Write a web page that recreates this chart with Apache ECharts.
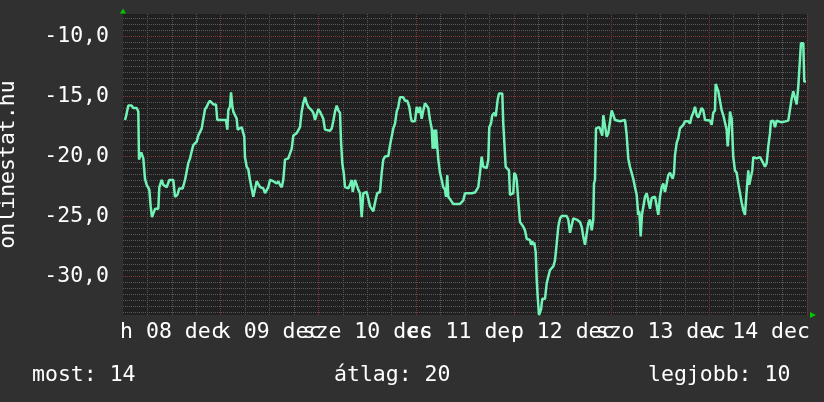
<!DOCTYPE html>
<html><head><meta charset="utf-8">
<script src="https://cdn.jsdelivr.net/npm/echarts@6/dist/echarts.min.js"></script>
<style>html,body{margin:0;padding:0;background:#303030}#c{width:824px;height:402px}</style>
</head><body><div id="c"></div>
<script>
// x labels (centred at noon of each day), Hungarian day abbreviations
const dayLabels = ['h 08 dec', 'k 09 dec', 'sze 10 dec', 'cs 11 dec', 'p 12 dec', 'szo 13 dec', 'v 14 dec'];
// time in hours since 08 dec 00:00
const hours = [0.49,0.74,1.30,2.14,2.53,3.36,3.76,3.93,4.18,4.49,4.99,5.40,5.82,6.46,6.80,7.12,7.44,7.86,8.67,8.92,9.50,9.90,10.73,11.37,12.35,12.77,13.34,13.83,14.66,15.23,15.65,16.04,16.46,16.87,17.27,18.10,18.49,18.91,19.33,19.72,20.14,20.56,20.95,21.37,22.18,22.84,23.16,25.30,25.62,25.86,26.28,26.53,26.84,27.09,27.51,27.93,28.17,29.15,29.55,29.79,29.96,30.38,30.77,31.19,31.61,32.00,32.42,32.84,33.23,33.65,34.46,34.88,35.29,35.69,36.10,36.91,37.75,38.14,38.56,38.98,39.37,39.79,40.60,41.02,41.43,41.83,42.66,43.06,43.47,43.89,44.28,44.70,45.12,45.51,46.35,46.74,47.16,47.57,47.97,48.38,48.80,49.19,49.61,50.84,51.26,51.65,52.07,52.49,52.88,53.30,53.54,53.86,54.21,54.53,55.34,55.75,56.17,56.42,56.74,56.98,57.40,57.79,58.21,58.63,58.87,59.02,59.86,60.25,60.67,61.08,61.48,61.72,62.14,62.46,63.12,63.54,63.93,64.35,65.16,65.58,65.99,66.39,66.81,67.22,67.62,68.03,68.84,69.26,69.83,70.32,70.66,70.91,71.72,72.13,72.53,72.95,73.36,73.76,74.17,74.59,74.98,75.40,75.82,76.06,76.38,76.63,76.88,77.19,77.44,77.86,78.27,78.67,79.08,79.33,79.65,79.90,80.31,80.73,81.12,82.77,83.19,83.58,84.00,84.42,84.81,85.23,85.64,86.45,86.87,87.26,87.68,88.10,88.49,89.33,89.72,89.97,90.38,90.70,91.19,91.54,91.78,92.03,92.35,92.84,93.16,93.40,93.65,93.99,94.48,94.80,95.05,95.47,95.86,96.11,96.45,96.70,97.09,97.51,97.92,98.32,98.74,99.15,99.96,100.21,100.53,100.77,101.02,101.36,101.61,101.85,102.17,102.67,102.98,103.65,104.07,104.46,104.88,105.69,106.10,106.52,106.91,107.33,107.75,108.97,109.37,109.79,110.20,110.60,111.02,111.43,112.24,112.66,113.05,113.47,113.89,114.28,114.70,115.12,115.51,115.68,115.93,116.17,116.98,117.33,117.72,117.97,118.38,118.80,119.19,119.61,120.03,120.42,120.84,121.25,122.07,123.30,123.71,124.10,124.52,124.94,125.33,125.75,126.17,126.56,126.81,127.15,127.47,127.79,128.21,128.63,129.02,129.44,129.85,130.67,131.08,131.47,131.89,132.31,132.70,133.12,133.54,133.93,134.35,135.01,135.33,135.58,135.99,136.39,136.80,137.22,137.62,138.03,138.84,139.26,139.68,140.07,140.49,140.91,141.30,141.72,142.13,142.53,142.95,144.17,144.59,144.98,145.40,145.57,145.89,146.21,146.63,147.04,147.44,147.85,148.27,148.52,148.84,149.09,149.50,149.89,150.31,150.73,151.12,151.54,151.96,152.35,152.77,153.01,153.33,153.58,153.82,154.17,154.56,154.81,155.64,156.04,156.45,156.87,157.26,157.68,158.10,158.49,158.91,159.15,159.72,160.14,160.55,161.78,162.17,163.40,163.82,164.24,164.63,165.05,165.46,165.86,166.27,166.52,167.09,167.33,167.75];
const temps = [-17.0,-16.7,-15.8,-15.8,-16.0,-16.0,-16.3,-20.3,-20.3,-19.7,-20.2,-21.9,-22.4,-22.8,-24.2,-25.1,-25.0,-24.4,-24.4,-22.6,-22.0,-22.4,-22.6,-22.0,-22.0,-23.4,-23.25,-22.7,-22.7,-22.0,-22.0,-20.6,-20.2,-19.6,-19.1,-18.8,-18.3,-18.2,-17.7,-17.6,-16.1,-15.9,-15.6,-15.4,-15.7,-15.7,-17.0,-17.0,-17.8,-16.2,-15.9,-14.7,-15.8,-16.3,-16.3,-16.9,-17.8,-17.6,-18.1,-18.4,-20.1,-20.9,-21.1,-22.0,-22.0,-23.4,-23.4,-22.1,-22.0,-22.6,-22.7,-23.1,-23.2,-22.6,-22.0,-22.1,-22.3,-22.1,-22.4,-22.6,-22.0,-20.3,-20.2,-20.1,-19.4,-18.3,-18.1,-18.0,-17.6,-16.3,-15.6,-15.1,-15.6,-15.9,-16.2,-16.4,-17.0,-17.0,-16.1,-16.3,-16.6,-16.9,-17.8,-17.9,-17.7,-17.1,-16.3,-15.8,-16.2,-16.4,-18.7,-20.6,-21.4,-22.6,-22.7,-22.4,-22.0,-23.0,-23.0,-22.0,-22.0,-22.8,-23.1,-25.1,-25.1,-23.1,-23.0,-23.0,-24.2,-24.3,-24.6,-24.7,-23.5,-23.1,-23.0,-21.4,-20.3,-20.05,-20.0,-19.1,-18.4,-17.7,-17.3,-16.3,-15.9,-15.1,-15.1,-15.4,-15.4,-15.9,-16.7,-17.1,-17.1,-15.9,-16.4,-15.9,-16.9,-16.2,-15.6,-15.75,-16.0,-17.0,-17.7,-19.4,-17.8,-19.4,-17.8,-19.2,-20.3,-21.4,-22.0,-22.6,-22.8,-23.4,-21.6,-23.4,-23.4,-23.8,-24.0,-24.0,-23.9,-23.7,-23.1,-23.0,-23.1,-23.0,-23.1,-23.05,-22.9,-22.6,-21.4,-20.05,-20.9,-21.0,-20.3,-17.6,-17.3,-16.6,-16.4,-16.7,-16.8,-15.3,-14.8,-14.7,-14.8,-17.3,-18.8,-20.9,-21.0,-21.2,-23.25,-23.25,-23.1,-21.4,-21.6,-22.0,-23.7,-25.5,-25.6,-25.9,-26.2,-26.9,-27.0,-27.4,-27.1,-27.4,-27.2,-28.0,-30.3,-31.7,-33.25,-32.8,-31.9,-31.9,-30.6,-30.05,-29.5,-29.2,-28.7,-27.3,-25.9,-25.2,-25.0,-25.0,-25.3,-26.4,-26.4,-25.2,-25.05,-25.3,-25.5,-25.9,-26.7,-27.4,-27.4,-25.6,-25.3,-26.2,-25.3,-22.3,-22.0,-17.7,-17.6,-17.9,-18.3,-16.6,-16.6,-18.4,-18.1,-18.25,-16.2,-16.2,-17.0,-17.1,-17.1,-17.0,-18.25,-20.2,-20.9,-20.9,-21.9,-22.6,-23.25,-24.9,-24.6,-26.7,-24.9,-24.9,-23.4,-23.1,-23.25,-24.4,-23.5,-23.4,-23.5,-24.9,-23.4,-22.6,-22.3,-23.0,-22.3,-21.6,-21.4,-21.9,-21.4,-19.9,-18.9,-18.5,-17.7,-17.6,-17.4,-17.1,-17.1,-17.3,-16.7,-16.4,-15.9,-16.6,-16.8,-16.8,-16.0,-16.2,-17.0,-17.05,-17.4,-16.4,-16.2,-14.0,-14.1,-14.6,-14.6,-16.2,-16.6,-16.7,-17.8,-19.2,-17.8,-16.3,-16.9,-20.1,-21.2,-21.4,-22.3,-22.4,-23.9,-24.5,-24.9,-23.7,-23.7,-21.2,-22.4,-22.3,-21.2,-20.1,-20.2,-20.3,-20.1,-20.2,-20.6,-20.9,-20.6,-19.2,-18.1,-17.1,-17.05,-17.6,-17.05,-17.2,-17.05,-17.05,-16.9,-15.2,-14.6,-14.6,-15.7,-14.2,-14.1,-10.6,-10.6,-13.8,-13.8];
const yTitle = 'onlinestat.hu';
const summaryNames = ['most', 'átlag', 'legjobb'];
const summaryValues = [14, 20, 10];

const FONT = "'DejaVu Sans Mono', monospace";
const FS = 21.5;
const GRAY = '#595959';
const RED = '#843636';
const ARROW = '#00c800';

const chart = echarts.init(document.getElementById('c'), null, {renderer: 'canvas'});
chart.setOption({
  animation: false,
  backgroundColor: '#303030',
  grid: {left: 123, top: 14, width: 684, height: 301, show: true, backgroundColor: '#202020', borderWidth: 0, containLabel: false, outerBoundsMode: 'none'},
  title: summaryNames.map((n, i) => ({
    text: n + ': ' + summaryValues[i],
    left: [32, 334, 648][i], top: 362, padding: 0,
    textStyle: {color: '#ffffff', fontFamily: FONT, fontSize: FS, fontWeight: 'normal', lineHeight: 26}
  })),
  xAxis: [{
    type: 'value', min: 0, max: 168, interval: 24, position: 'bottom',
    axisLine: {show: true, symbol: ['none', 'triangle'], symbolSize: [6, 6], symbolOffset: [0, 6], lineStyle: {color: ARROW, width: 0}},
    axisTick: {show: false},
    axisLabel: {show: false},
    splitLine: {show: true, showMinLine: false, lineStyle: {color: RED, type: 'dotted', width: 1}},
    minorTick: {show: false, splitNumber: 4},
    minorSplitLine: {show: true, lineStyle: {color: GRAY, type: 'dotted', width: 1}}
  }, {
    type: 'value', min: 0, max: 168, interval: 12, position: 'bottom', offset: 0,
    axisLine: {show: false}, axisTick: {show: false}, splitLine: {show: false},
    axisLabel: {
      show: true, margin: 6, color: '#ffffff', fontFamily: FONT, fontSize: FS,
      showMinLabel: false, showMaxLabel: false,
      formatter: v => (v % 24 === 12 ? dayLabels[(v - 12) / 24] : '')
    }
  }],
  yAxis: {
    type: 'value', min: -33.25, max: -8.1667, splitNumber: 5, minInterval: 5, maxInterval: 5,
    name: yTitle, nameLocation: 'middle', nameRotate: 90, nameGap: 104,
    nameTextStyle: {color: '#ffffff', fontFamily: FONT, fontSize: FS},
    axisLine: {show: true, symbol: ['none', 'triangle'], symbolSize: [6, 5], symbolOffset: [0, 3], lineStyle: {color: ARROW, width: 0}},
    axisTick: {show: false},
    axisLabel: {
      color: '#ffffff', fontFamily: FONT, fontSize: FS, margin: 14,
      showMinLabel: false, showMaxLabel: false,
      formatter: v => v.toFixed(1).replace('.', ',')
    },
    splitLine: {show: true, showMinLine: false, showMaxLine: false, lineStyle: {color: RED, type: 'dotted', width: 1}},
    minorTick: {show: false, splitNumber: 10},
    minorSplitLine: {show: true, lineStyle: {color: GRAY, type: 'dotted', width: 1}}
  },
  series: [{
    type: 'line', xAxisIndex: 0, showSymbol: false, symbol: 'none',
    data: hours.map((h, i) => [h, temps[i]]),
    lineStyle: {color: '#72f2b6', width: 2.5}, z: 5
  }]
});
</script>
</body></html>
